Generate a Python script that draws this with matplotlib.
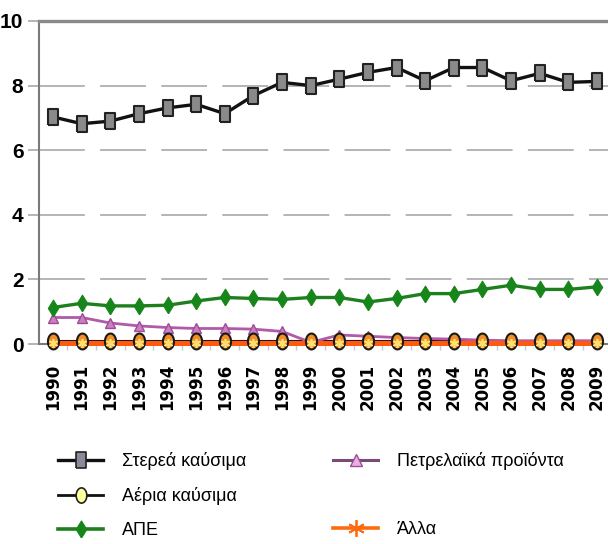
import math
import matplotlib
matplotlib.use("Agg")
import matplotlib.pyplot as plt
from matplotlib import font_manager
from matplotlib.lines import Line2D

# Data: energy use by fuel type, 1990-2009
years = list(range(1990, 2010))
solid_fuels = [7.03, 6.82, 6.90, 7.13, 7.31, 7.42, 7.13, 7.69, 8.10, 8.00,
               8.20, 8.41, 8.56, 8.15, 8.56, 8.56, 8.15, 8.38, 8.10, 8.13]
oil_products = [0.82, 0.82, 0.65, 0.56, 0.51, 0.48, 0.48, 0.46, 0.39, 0.05,
                0.28, 0.24, 0.20, 0.17, 0.15, 0.12, 0.10, 0.10, 0.10, 0.10]
gas_fuels = [0.10, 0.10, 0.10, 0.10, 0.10, 0.10, 0.10, 0.10, 0.10, 0.10,
             0.10, 0.10, 0.10, 0.10, 0.10, 0.10, 0.10, 0.10, 0.10, 0.10]
renewables = [1.13, 1.26, 1.18, 1.18, 1.20, 1.33, 1.44, 1.41, 1.38, 1.44,
              1.44, 1.30, 1.41, 1.56, 1.56, 1.69, 1.82, 1.69, 1.69, 1.77]
other = [0.04, 0.04, 0.04, 0.04, 0.04, 0.04, 0.04, 0.04, 0.04, 0.04,
         0.04, 0.04, 0.04, 0.04, 0.04, 0.04, 0.04, 0.04, 0.04, 0.04]

labels = ["Στερεά καύσιμα", "Αέρια καύσιμα", "ΑΠΕ",
          "Πετρελαϊκά προϊόντα", "Άλλα"]
y_ticks = [0, 2, 4, 6, 8, 10]

# Arial-metric face for the axis numbers and the legend
installed = {f.name for f in font_manager.fontManager.ttflist}
if "Liberation Sans Narrow" in installed:
    narrow_family = ["Liberation Sans Narrow", "DejaVu Sans"]
else:
    narrow_family = ["Liberation Sans", "DejaVu Sans"]

W, H = 608, 544
fig = plt.figure(figsize=(W / 100, H / 100), dpi=100)
fig.patch.set_facecolor("white")

# Axes box in pixel terms
left_px, top_px, zero_px = 38.7, 21, 344
right_px = 611.3
ax = fig.add_axes([left_px / W, 1 - zero_px / H,
                   (right_px - left_px) / W, (zero_px - top_px) / H])

# Tall marker shapes
rect = [(-0.3, -0.5), (0.3, -0.5), (0.3, 0.5), (-0.3, 0.5), (-0.3, -0.5)]
diamond = [(0, -0.5), (0.31, 0), (0, 0.5), (-0.31, 0), (0, -0.5)]
ellipse = [(0.35 * math.cos(t / 24 * 2 * math.pi),
            0.5 * math.sin(t / 24 * 2 * math.pi)) for t in range(25)]

ax.plot(years, gas_fuels, color="#1a1a1a", lw=1.5, zorder=3)
ax.plot(years, other, color="#ff5a10", lw=3.6, zorder=3.5,
        solid_capstyle="butt", clip_on=False)
ax.plot(years, gas_fuels, color="none", zorder=4, clip_on=False,
        marker=ellipse, ms=11.5, mfc="#f0902a", mec="#1a1a1a", mew=1.5)
ax.plot(years, other, color="none", zorder=5, clip_on=False,
        marker=(6, 2, 0), ms=6.5, mec="#ffe070", mew=1.2)
ax.plot(years, oil_products, color="#b05aa8", lw=2.0, zorder=3,
        marker="^", ms=6.5, mfc="#c97fc0", mec="#a04a98", mew=1.0)
ax.plot(years, renewables, color="#1f7f1f", lw=2.4, zorder=6,
        marker=diamond, ms=12, mfc="#17861a", mec="#17861a", mew=0.8)
ax.plot(years, solid_fuels, color="#111111", lw=2.4, zorder=7,
        marker=rect, ms=11.5, mfc="#8a8a8a", mec="#222222", mew=1.5)

ax.set_xlim(1989.5, 2009.5)
ax.set_ylim(0, 10)

# Dashed horizontal grid
ax.set_yticks(y_ticks)
ax.yaxis.grid(True, color="#a0a0a0", lw=1.1, linestyle=(0, (30, 10)))
ax.set_axisbelow(True)
ax.spines["right"].set_visible(False)
ax.spines["top"].set_color("#8a8a8a")
ax.spines["top"].set_linewidth(2.4)
ax.spines["left"].set_color("#7a7a7a")
ax.spines["left"].set_linewidth(1.5)
ax.spines["bottom"].set_color("#7a7a7a")
ax.spines["bottom"].set_linewidth(1.5)
ax.spines["bottom"].set_zorder(2)

ax.tick_params(axis="y", length=8, width=1.1, color="#a0a0a0", pad=3)
ax.set_yticklabels([str(v) for v in y_ticks], fontsize=15, fontweight="bold",
                   family=narrow_family)

ax.set_xticks(years)
ax.set_xticks([y + 0.5 for y in years[:-1]], minor=True)
ax.tick_params(axis="x", which="major", length=0, pad=14)
ax.tick_params(axis="x", which="minor", length=4, width=1, color="#c8c8c8")
ax.set_xticklabels([str(y) for y in years], rotation=90, fontsize=12,
                   fontweight="bold", family="DejaVu Sans", va="top")

# Legend in two columns
def handle(color, lw, **kw):
    return Line2D([], [], color=color, lw=lw, **kw)

h_solid = handle("#111111", 2.4, marker=rect, ms=12, mfc="#8a8a9a",
                 mec="#222222", mew=1.2)
h_gas = handle("#111111", 2.0, marker=ellipse, ms=11, mfc="#ffffa0",
               mec="#222222", mew=1.2)
h_res = handle("#1f7f1f", 2.6, marker=diamond, ms=12, mfc="#17861a",
               mec="#17861a")
h_oil = handle("#7a4a78", 2.2, marker="^", ms=8, mfc="#e8b0e0", mec="#a04a98")
h_other = handle("#ff6a10", 2.6, marker=(6, 2, 0), ms=12, mec="#ff6a10",
                 mew=1.3)

common = dict(frameon=False, loc="upper left", borderpad=0, borderaxespad=0,
              handlelength=2.5, handletextpad=1.05, labelspacing=0.95,
              prop=font_manager.FontProperties(size=13, family=narrow_family))
leg1 = fig.legend([h_solid, h_gas, h_res], labels[:3],
                  bbox_to_anchor=(58 / W, 1 - 452 / H), **common)
leg2 = fig.legend([h_oil, handle("none", 0), h_other],
                  [labels[3], "", labels[4]],
                  bbox_to_anchor=(333 / W, 1 - 452 / H), **common)

fig.savefig("out.png", dpi=100, facecolor="white")
